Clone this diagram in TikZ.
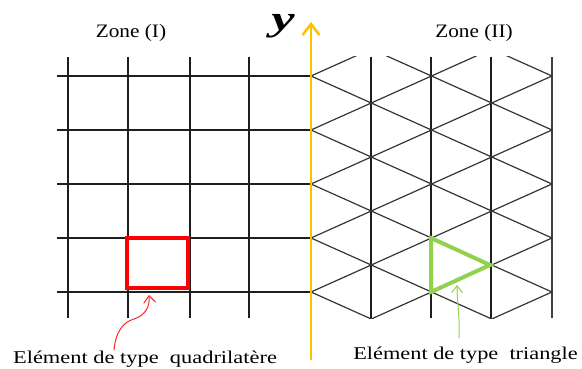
\documentclass[tikz,border=0pt]{standalone}
\usepackage{fontspec}
\setmainfont{Liberation Serif}
\usetikzlibrary{arrows.meta}
\definecolor{axisgold}{RGB}{255,192,0}
\definecolor{elemgreen}{RGB}{146,208,80}
\definecolor{gridgray}{RGB}{30,30,30}
\begin{document}
\begin{tikzpicture}[x=1pt,y=-1pt,
  gridline/.style={line width=1.4pt, draw=gridgray},
  diagline/.style={line width=1.2pt, draw=gridgray!90},
  lbl/.style={inner sep=0pt, anchor=base},
  zonefont/.style={font=\fontsize{19}{21}\selectfont},
  elemfont/.style={font=\fontsize{18}{20}\selectfont},
]
\useasboundingbox (0,0) rectangle (582,369);
% zone I: quadrilateral grid
\foreach \x in {68,128,190,249} \draw[gridline] (\x,57) -- (\x,318);
\foreach \y in {76,130,184,238,292} \draw[gridline] (57,\y) -- (311,\y);
% zone II: triangular mesh
\foreach \x in {371,431,491} \draw[gridline] (\x,57) -- (\x,318);
\draw[line width=2pt, draw=gridgray!85] (552,57) -- (552,318);
\begin{scope}
  \clip (311,57) rectangle (552,318);
  \foreach \k in {-3,...,7} {
    \draw[diagline] (311,{76+54*(\k)}) -- (552,{76+54*(\k)-108});
    \draw[diagline] (311,{76+54*(\k)}) -- (552,{76+54*(\k)+108});
  }
\end{scope}
% y axis
\coordinate (ybot) at (311,360);
\coordinate (ytop) at (311,22);
\draw[line width=2.5pt, draw=axisgold, -{Straight Barb[length=11pt,width=17pt,line width=2.5pt]}] (ybot) -- (ytop);
\node[lbl] (ylab) at (283,31) {\scalebox{1.5}[1]{\fontsize{35}{37}\selectfont\bfseries\itshape y}};
% elements
\draw[red, line width=4pt] (127,238) rectangle (188,288);
\coordinate (t1) at (431,238);
\coordinate (t2) at (490,265);
\coordinate (t3) at (431,292);
\draw[elemgreen, line width=4pt, line join=miter] (t1) -- (t2) -- (t3) -- cycle;
% labels
\node[lbl, zonefont] (zone1) at (131,38) {\scalebox{1.12}[1]{Zone (I)}};
\node[lbl, zonefont] (zone2) at (474,38) {\scalebox{1.12}[1]{Zone (II)}};
\node[lbl, elemfont] (quad) at (145,363) {\scalebox{1.245}[1]{Elément de type\enspace quadrilatère}};
\node[lbl, elemfont] (tri) at (465.5,359) {\scalebox{1.24}[1]{Elément de type\enspace triangle}};
% pointers
\coordinate (rs) at (114,350);
\coordinate (rt) at (149,295);
\draw[red!85, line width=1pt, -{Straight Barb[length=7pt,width=12pt]}]
  (rs) .. controls (116,330) and (124,322) .. (134,319) .. controls (146,315) and (150,306) .. (rt);
\coordinate (gs) at (459,338);
\coordinate (gt) at (457,285);
\draw[elemgreen, line width=1pt, -{Straight Barb[length=7pt,width=11pt]}]
  (gs) .. controls (460,318) and (457,300) .. (gt);
\end{tikzpicture}
\end{document}
